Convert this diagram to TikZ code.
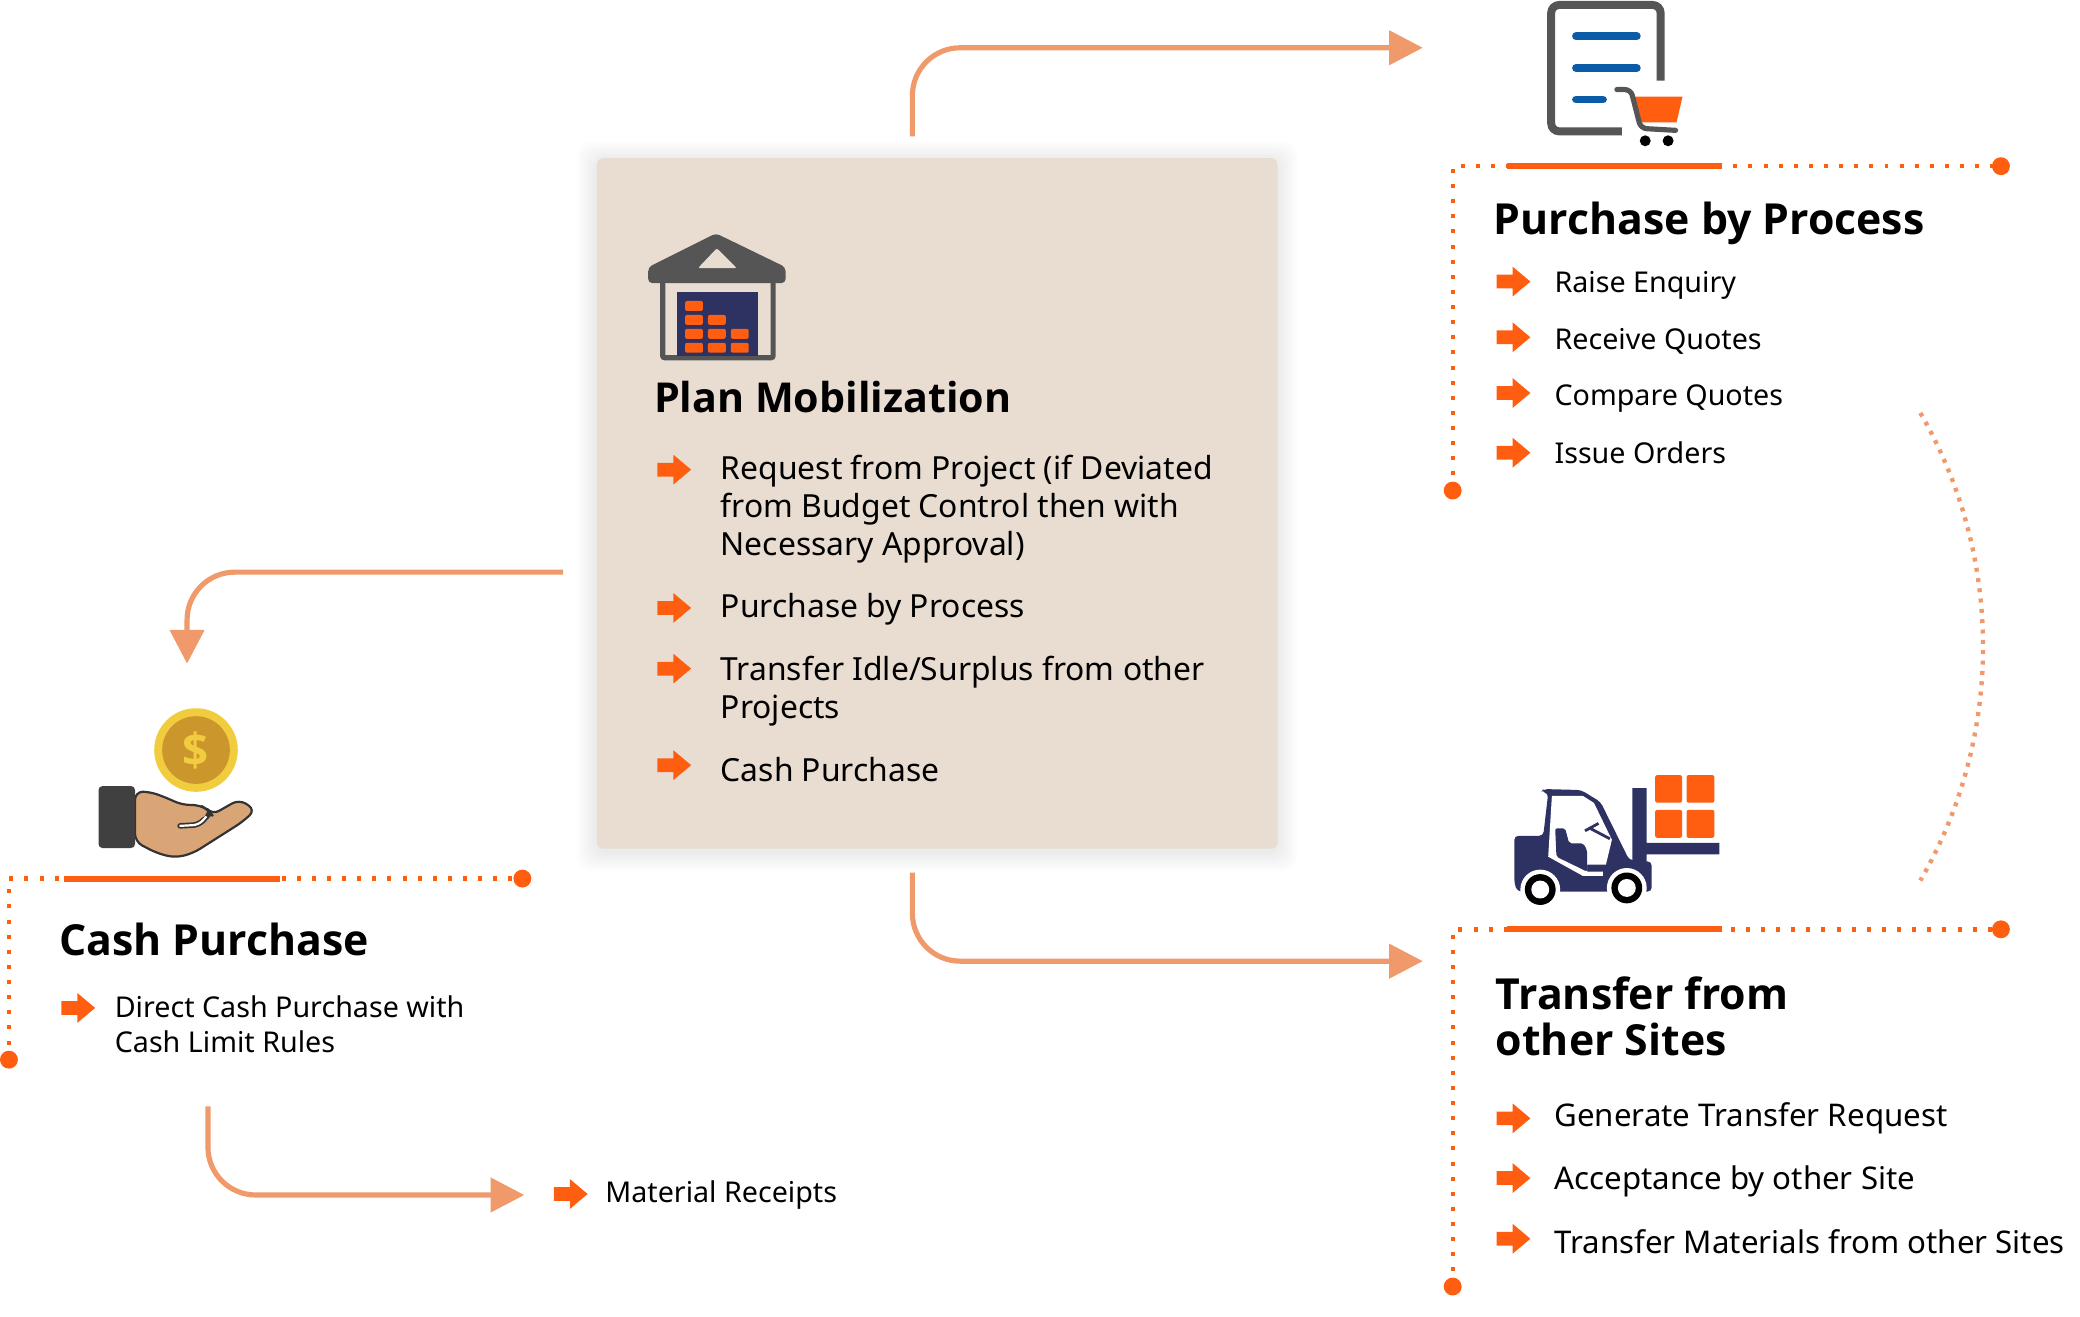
\documentclass[tikz,border=0pt]{standalone}
\usepackage{fontspec}
\setmainfont{Noto Sans}
\newfontfamily\headfont{Open Sans}
\usetikzlibrary{arrows.meta,shapes.arrows}
\definecolor{accent}{HTML}{FF5D10}
\definecolor{salmon}{HTML}{F09A6C}
\definecolor{boxbeige}{HTML}{E9DDD2}
\definecolor{navy}{HTML}{2E3262}
\definecolor{iron}{HTML}{555555}
\definecolor{docblue}{HTML}{0B5CA8}
\definecolor{coingold}{HTML}{F1CC3F}
\definecolor{coindark}{HTML}{CB962B}
\definecolor{skin}{HTML}{D9A577}
\definecolor{cuff}{HTML}{404040}
\tikzset{
  flow/.style={draw=salmon,line width=2.6pt,rounded corners=24pt,-{Triangle[length=17pt,width=17pt]}},
  dots/.style={draw=accent,line width=2.2pt,dash pattern=on 2pt off 5.6pt},
  bar/.style={draw=accent,line width=3pt},
  enddot/.style={fill=accent},
  heading/.style={anchor=base west,inner sep=0pt,align=left,font=\headfont\fontsize{21.5}{23}\selectfont\bfseries},
  planitem/.style={anchor=west,inner sep=0pt,yshift=-1.2pt,align=left,font=\fontsize{16}{19}\selectfont},
  bigitem/.style={anchor=west,inner sep=0pt,yshift=-1.2pt,align=left,font=\fontsize{15.7}{19}\selectfont},
  listitem/.style={anchor=west,inner sep=0pt,yshift=-1.2pt,align=left,font=\fontsize{14.4}{18}\selectfont},
  pointer/.style={single arrow,fill=accent,inner xsep=0pt,inner ysep=3.25pt,minimum height=17pt,minimum width=14.5pt,single arrow head extend=4pt,single arrow tip angle=80},
  brick/.style={fill=accent,rounded corners=1pt}
}
\begin{document}
\begin{tikzpicture}[x=0.5pt,y=-0.5pt]
\useasboundingbox (0,0) rectangle (2090.5,1323.6);

% soft shadow under the box
\foreach \s in {2,4,...,20} {
  \fill[black,opacity=0.008,rounded corners=7pt] (600-\s,159-\s+3) rectangle (1284+\s,853+\s+3);
}
\node[fill=boxbeige,rounded corners=3pt,inner sep=0pt,minimum width=342pt,minimum height=347pt] (plan) at (942,506) {};

% connector ends
\coordinate (planTop) at (917,137);
\coordinate (planBottom) at (917,877);
\coordinate (planLeft) at (566,575);
\coordinate (cashOut) at (209,1112);
\coordinate (purchaseIn) at (1430,48);
\coordinate (transferIn) at (1430,966);
\coordinate (cashIn) at (188,667);
\coordinate (receiptIn) at (527,1201);
\coordinate (arcTop) at (1930,415);
\coordinate (arcBottom) at (1930,885);

\draw[flow] (planTop) |- (purchaseIn);
\draw[flow] (planBottom) |- (transferIn);
\draw[flow] (planLeft) -| (cashIn);
\draw[flow] (cashOut) |- (receiptIn);
\draw[draw=salmon,line width=2.2pt,dash pattern=on 2pt off 3.2pt] (arcTop) .. controls (2014,560) and (2014,740) .. (arcBottom);

% warehouse
\begin{scope}[shift={(3.5,1.5)}]
\draw[iron,line width=2.6pt,rounded corners=1pt] (662.5,283) -- (662.5,358) -- (773.5,358) -- (773.5,283);
\fill[iron,rounded corners=2pt] (648,267) -- (716,233) -- (786,267) -- (786,283) -- (648,283) -- cycle;
\fill[boxbeige,rounded corners=1pt] (698,268) -- (717,248) -- (737,268) -- cycle;
\fill[navy] (677,292) rectangle (758,356);
\foreach \x/\y in {685/301,685/315,685/329,685/343,708/315,708/329,708/343,731/329,731/343} {
  \fill[brick] (\x,\y) rectangle ++(18,10);
}
\end{scope}

% purchase document with cart
\draw[iron,line width=4pt,rounded corners=4pt] (1669,81) -- (1669,5) -- (1559,5) -- (1559,132) -- (1630,132);
\draw[docblue,line width=4pt,line cap=round] (1584,36.5) -- (1645,36.5) (1584,68.3) -- (1645,68.3) (1584,100) -- (1611,100);
\fill[accent] (1641,97) -- (1691,97) -- (1685,123) -- (1648,123) -- cycle;
\draw[iron,line width=2.6pt,line cap=round,rounded corners=3pt] (1625,90) -- (1639,90) -- (1649,129) -- (1684,131);
\fill[black] (1653.5,141.5) circle (5.5) (1676.5,141.5) circle (5.5);

% forklift
\fill[accent,rounded corners=1pt] (1663.5,779) rectangle (1690.5,806.7) (1695,779) rectangle (1723,806.7) (1663.5,814) rectangle (1690.5,842) (1695,814) rectangle (1723,842);
\fill[navy] (1653,847) rectangle (1728,858.6) (1640.5,792) rectangle (1655,866);
\fill[navy,rounded corners=2pt] (1522,840) -- (1551,840) -- (1556,797) -- (1549,796) -- (1551,793) -- (1589,794) -- (1608.6,806) -- (1637.4,864.3) -- (1660,866) -- (1660,896) -- (1525,896) -- (1522,888) -- cycle;
\fill[white] (1559.7,800) -- (1591,800) -- (1602,807) -- (1620,844) -- (1614,869) -- (1595,869) -- (1595,876) -- (1611,876) -- (1611,880.4) -- (1591,880.4) -- (1556,861) -- cycle;
\fill[navy,rounded corners=1pt] (1563,832.5) -- (1573,832.5) -- (1577,847.5) -- (1591,847.5) -- (1595,854) -- (1595,876) -- (1564.3,861) -- cycle;
\draw[navy,line width=1.4pt] (1593,835) -- (1606.6,827.5) (1599,833) -- (1618,843);
\foreach \x/\y in {1548/894,1635/892.4} {
  \fill[white] (\x,\y) circle (20);
  \fill[black] (\x,\y) circle (15.5);
  \fill[white] (\x,\y) circle (9);
}

% coin and hand
\fill[coingold] (197,753.8) circle (42);
\fill[coindark] (197,753.8) circle (34);
\node[inner sep=0pt,text=coingold,font=\headfont\fontsize{23}{23}\selectfont\bfseries] (dollar) at (197,753.8) {\$};
\draw[fill=skin,draw=black!80,line width=1.1pt,rounded corners=4pt]
  (135.7,795.7) -- (150.8,795.7) -- (168.7,802.4) -- (183,809) -- (201,809) -- (209,814) -- (213,819) -- (240.5,803.4) -- (256.7,814) -- (244,825.8) -- (193.9,857.6) -- (176,862) -- (158,857.6) -- (135.7,846) -- cycle;
\draw[black!80,line width=2.8pt,line cap=round,rounded corners=3pt] (181,830) -- (200,829) -- (210,818);
\draw[white,line width=1.1pt,line cap=round,rounded corners=3pt] (181,830) -- (200,829) -- (207,821);
\fill[skin] (199,811) -- (208,815.5) -- (206,820) -- (199,824) -- cycle;
\fill[cuff,rounded corners=2pt] (99,790) rectangle (135.7,852.3);

% dotted frames
\draw[dots] (1460,493) -- (1460,167) -- (2011,167);
\draw[bar] (1515,167) -- (1731,167);
\fill[enddot] (2011,167) circle (9) (1460,493) circle (9);
\draw[dots] (1460,1293) -- (1460,934) -- (2011,934);
\draw[bar] (1515,934) -- (1731,934);
\fill[enddot] (2011,934) circle (9) (1460,1293) circle (9);
\draw[dots] (9,1065) -- (9,883) -- (525,883);
\draw[bar] (64,883) -- (281,883);
\fill[enddot] (525,883) circle (9) (9,1065) circle (9);

% headings
\node[heading,font=\headfont\fontsize{20.7}{23}\selectfont\bfseries] (planTitle) at (657,415) {Plan Mobilization};
\node[heading] (purchaseTitle) at (1501,236) {Purchase by Process};
\node[heading] (transferTitle) at (1503,1061) {Transfer from\\other Sites};
\node[heading] (cashTitle) at (59,960) {Cash Purchase};

% list pointers
\foreach \i/\x/\y in {a/673.5/472,b/673.5/611,c/673.5/672,d/673.5/769,e/1517/283,f/1517/339,g/1517/395,h/1517/455,j/1517/1124,k/1517/1184,l/1517/1245,m/74.5/1013,n/569.5/1200} {
  \node[pointer] (point\i) at (\x,\y) {};
}

% list texts
\node[planitem] (planItemA) at (724,509) {Request from Project (if Deviated\\from Budget Control then with\\Necessary Approval)};
\node[planitem] (planItemB) at (724,610) {Purchase by Process};
\node[planitem] (planItemC) at (724,692) {Transfer Idle/Surplus from other\\Projects};
\node[planitem] (planItemD) at (724,771) {Cash Purchase};
\node[listitem] (purchaseItemA) at (1562,284) {Raise Enquiry};
\node[listitem] (purchaseItemB) at (1562,341) {Receive Quotes};
\node[listitem] (purchaseItemC) at (1562,398) {Compare Quotes};
\node[listitem] (purchaseItemD) at (1562,453) {Issue Orders};
\node[bigitem] (transferItemA) at (1562,1122) {Generate Transfer Request};
\node[bigitem] (transferItemB) at (1562,1185) {Acceptance by other Site};
\node[bigitem] (transferItemC) at (1562,1246) {Transfer Materials from other Sites};
\node[listitem] (cashItem) at (115,1027) {Direct Cash Purchase with\\Cash Limit Rules};
\node[listitem] (receiptItem) at (608,1199) {Material Receipts};
\end{tikzpicture}
\end{document}
